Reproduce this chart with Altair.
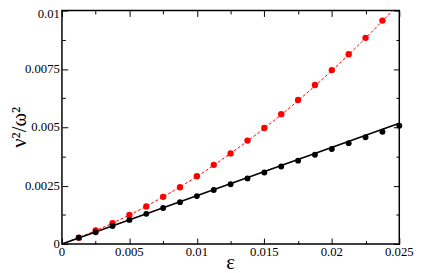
import altair as alt
import pandas as pd

# Data
eps_red = [0.00125, 0.0025, 0.00375, 0.005, 0.00625, 0.0075, 0.00875, 0.01, 0.01125, 0.0125,
           0.01375, 0.015, 0.01625, 0.0175, 0.01875, 0.02, 0.02125, 0.0225, 0.02375]
val_red = [0.00027, 0.00058, 0.00089, 0.00124, 0.00161, 0.00202, 0.00243, 0.00290, 0.00339, 0.00388,
           0.00443, 0.00497, 0.00556, 0.00617, 0.00681, 0.00745, 0.00813, 0.00883, 0.00957]

eps_black = [0.00125, 0.0025, 0.00375, 0.005, 0.00625, 0.0075, 0.00875, 0.01, 0.01125, 0.0125,
             0.01375, 0.015, 0.01625, 0.0175, 0.01875, 0.02, 0.02125, 0.0225, 0.02375, 0.025]
val_black = [0.00027, 0.00050, 0.00077, 0.00103, 0.00129, 0.00154, 0.00179, 0.00205, 0.00231, 0.00256,
             0.00281, 0.00306, 0.00332, 0.00357, 0.00382, 0.00407, 0.00432, 0.00457, 0.00481, 0.00507]

# fitted curves
fit_red_x = [0, 0.0025, 0.005, 0.0075, 0.01, 0.0125, 0.015, 0.0175, 0.02, 0.0225, 0.0245]
fit_red_y = [0, 0.00057, 0.00124, 0.00202, 0.00289, 0.00388, 0.00496, 0.00614, 0.00743, 0.00882, 0.0100]
fit_black_x = [0, 0.025]
fit_black_y = [0, 0.00517]

x_major = [0, 0.005, 0.01, 0.015, 0.02, 0.025]
x_labels = ["0", "0.005", "0.01", "0.015", "0.02", "0.025"]
x_minor = [0.0025, 0.0075, 0.0125, 0.0175, 0.0225]
y_major = [0, 0.0025, 0.005, 0.0075, 0.01]
y_labels = ["0", "0.0025", "0.005", "0.0075", "0.01"]
y_minor = [0.00125, 0.00375, 0.00625, 0.00875]
x_title = "ε"
y_title = "ν²/ω²"

FONT = "Liberation Serif"
MAJ, MIN = 6, 3.5
W, H = 344, 238


def axis(orient, values, size):
    return alt.Axis(orient=orient, values=values, tickSize=size, offset=-size, domain=False,
                    grid=False, labels=False, tickColor="black", tickWidth=1, title="")


xs = alt.Scale(domain=[0, 0.025], nice=False, zero=False)
ys = alt.Scale(domain=[0, 0.01], nice=False, zero=False)

df_red = pd.DataFrame({"x": eps_red, "y": val_red})
df_black = pd.DataFrame({"x": eps_black, "y": val_black})
df_fr = pd.DataFrame({"x": fit_red_x, "y": fit_red_y})
df_fb = pd.DataFrame({"x": fit_black_x, "y": fit_black_y})

red_line = alt.Chart(df_fr).mark_line(color="#ff0000", strokeWidth=1, strokeDash=[3, 2],
                                      interpolate="monotone", clip=True).encode(
    x=alt.X("x:Q", scale=xs, axis=axis("top", x_major, MAJ)),
    y=alt.Y("y:Q", scale=ys, axis=axis("right", y_major, MAJ)),
)

black_line = alt.Chart(df_fb).mark_line(color="black", strokeWidth=1.6).encode(
    x=alt.X("x:Q", scale=xs, axis=axis("top", x_minor, MIN)),
    y=alt.Y("y:Q", scale=ys, axis=axis("right", y_minor, MIN)),
)

red_pts = alt.Chart(df_red).mark_circle(color="#ff0000", size=42, opacity=1).encode(
    x=alt.X("x:Q", scale=xs, axis=axis("bottom", x_major, MAJ)),
    y=alt.Y("y:Q", scale=ys, axis=axis("left", y_major, MAJ)),
)

black_pts = alt.Chart(df_black).mark_circle(color="black", size=36, opacity=1).encode(
    x=alt.X("x:Q", scale=xs, axis=axis("bottom", x_minor, MIN)),
    y=alt.Y("y:Q", scale=ys, axis=axis("left", y_minor, MIN)),
)

# tick labels (drawn as text so that the serif font is honoured)
xlab = alt.Chart(pd.DataFrame({"v": x_major, "t": x_labels})).mark_text(
    font=FONT, fontSize=13, color="black", align="center", baseline="top").encode(
    x=alt.X("v:Q", scale=xs, axis=None),
    y=alt.value(H + 2),
    text="t:N",
)

ylab = alt.Chart(pd.DataFrame({"v": y_major[:-1], "t": y_labels[:-1]})).mark_text(
    font=FONT, fontSize=13, color="black", align="right", baseline="middle").encode(
    y=alt.Y("v:Q", scale=ys, axis=None),
    x=alt.value(-2),
    text="t:N",
)

ylab_top = alt.Chart(pd.DataFrame({"v": y_major[-1:], "t": y_labels[-1:]})).mark_text(
    font=FONT, fontSize=13, color="black", align="right", baseline="middle", dy=4).encode(
    y=alt.Y("v:Q", scale=ys, axis=None),
    x=alt.value(-2),
    text="t:N",
)

xtit = alt.Chart(pd.DataFrame({"t": [x_title]})).mark_text(
    font=FONT, fontSize=21, color="black", align="center", baseline="alphabetic").encode(
    x=alt.value(W / 2), y=alt.value(H + 26), text="t:N")

ytit = alt.Chart(pd.DataFrame({"t": [y_title]})).mark_text(
    font=FONT, fontSize=21, color="black", align="center", baseline="alphabetic", angle=270).encode(
    x=alt.value(-37), y=alt.value(H / 2), text="t:N")

chart = alt.layer(red_line, black_line, red_pts, black_pts, xlab, ylab, ylab_top, xtit, ytit).resolve_axis(
    x="independent", y="independent"
).properties(
    width=W, height=H,
    autosize=alt.AutoSizeParams(type="none"),
    padding={"left": 55, "top": 0, "right": 15, "bottom": 27},
).configure_view(stroke="black", strokeWidth=1.5)

chart.save("out.html", embed_options={"renderer": "svg", "actions": False})
